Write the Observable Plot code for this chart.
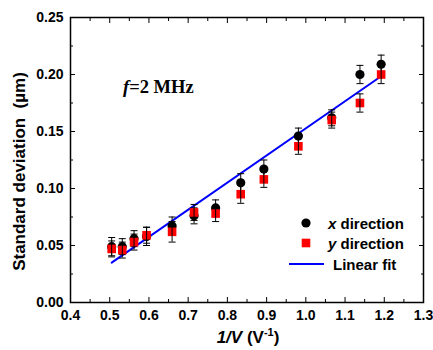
<!DOCTYPE html>
<html><head><meta charset="utf-8">
<script src="https://cdn.jsdelivr.net/npm/d3@7"></script>
<script src="https://cdn.jsdelivr.net/npm/@observablehq/plot@0.6"></script>
<style>body{margin:0;background:#fff;}</style>
</head><body><div id="chart"></div>
<script>
// ---- data ----
const invV = [0.505, 0.532, 0.562, 0.594, 0.659, 0.715, 0.770, 0.834, 0.893, 0.981, 1.066, 1.138, 1.192];
const xDir = [0.049, 0.049, 0.056, 0.058, 0.067, 0.076, 0.083, 0.105, 0.117, 0.146, 0.162, 0.200, 0.209];
const xErr = [0.008, 0.007, 0.007, 0.008, 0.008, 0.007, 0.007, 0.008, 0.008, 0.007, 0.007, 0.008, 0.008];
const yDir = [0.047, 0.046, 0.053, 0.059, 0.062, 0.079, 0.078, 0.095, 0.108, 0.137, 0.160, 0.175, 0.200];
const yErr = [0.007, 0.007, 0.007, 0.007, 0.009, 0.007, 0.007, 0.008, 0.007, 0.007, 0.007, 0.008, 0.008];
const fitX = [0.505, 1.192];
const fitY = [0.035, 0.1985];
const xTicks = [0.4, 0.5, 0.6, 0.7, 0.8, 0.9, 1.0, 1.1, 1.2, 1.3];
const xMinor = [0.45, 0.55, 0.65, 0.75, 0.85, 0.95, 1.05, 1.15, 1.25];
const yTicks = [0.00, 0.05, 0.10, 0.15, 0.20, 0.25];
const yMinor = [0.025, 0.075, 0.125, 0.175, 0.225];

const xs = invV.map((v, i) => ({x: v, y: xDir[i], e: xErr[i]}));
const ys = invV.map((v, i) => ({x: v, y: yDir[i], e: yErr[i]}));
const fit = fitX.map((v, i) => ({x: v, y: fitY[i]}));

const cap = {draw(ctx, size) { const w = Math.sqrt(size / Math.PI); ctx.moveTo(-w, 0); ctx.lineTo(w, 0); }};
const square = {draw(ctx, size) { const w = Math.sqrt(size / Math.PI); ctx.rect(-w, -w, 2 * w, 2 * w); }};

function errMarks(data) {
  return [
    Plot.ruleX(data, {x: "x", y1: d => d.y - d.e, y2: d => d.y + d.e, stroke: "black", strokeWidth: 1}),
    Plot.dot(data, {x: "x", y: d => d.y + d.e, symbol: cap, r: 3.5, stroke: "black", fill: "none", strokeWidth: 1}),
    Plot.dot(data, {x: "x", y: d => d.y - d.e, symbol: cap, r: 3.5, stroke: "black", fill: "none", strokeWidth: 1})
  ];
}

const font = "'Liberation Sans', Arial, Helvetica, sans-serif";
const tickAxis = (fn, opts) => fn({...opts, tickFormat: () => "", label: null, stroke: "black", strokeWidth: 1});

const chart = Plot.plot({
  width: 433, height: 350,
  marginLeft: 70, marginRight: 10, marginTop: 17, marginBottom: 48,
  style: {fontFamily: font, fontWeight: "bold", color: "black", background: "white"},
  x: {domain: [0.4, 1.3], label: null},
  y: {domain: [0, 0.25], label: null},
  marks: [
    Plot.axisX(xTicks, {anchor: "bottom", tickSize: 0, tickPadding: 8, tickFormat: d3.format(".1f"), fontSize: 14, fill: "black", label: null}),
    Plot.axisY(yTicks, {anchor: "left", tickSize: 0, tickPadding: 7, tickFormat: d3.format(".2f"), fontSize: 14, fill: "black", label: null}),
    tickAxis(Plot.axisX, {ticks: xTicks, anchor: "bottom", tickSize: -5}),
    tickAxis(Plot.axisX, {ticks: xMinor, anchor: "bottom", tickSize: -3}),
    tickAxis(Plot.axisX, {ticks: xTicks, anchor: "top", tickSize: -5}),
    tickAxis(Plot.axisX, {ticks: xMinor, anchor: "top", tickSize: -3}),
    tickAxis(Plot.axisY, {ticks: yTicks, anchor: "left", tickSize: -5}),
    tickAxis(Plot.axisY, {ticks: yMinor, anchor: "left", tickSize: -3}),
    tickAxis(Plot.axisY, {ticks: yTicks, anchor: "right", tickSize: -5}),
    tickAxis(Plot.axisY, {ticks: yMinor, anchor: "right", tickSize: -3}),
    Plot.line(fit, {x: "x", y: "y", stroke: "#0000ff", strokeWidth: 2}),
    Plot.dot(xs, {x: "x", y: "y", r: 4.6, fill: "black", stroke: "none"}),
    ...errMarks(xs),
    Plot.dot(ys, {x: "x", y: "y", symbol: square, r: 4.3, fill: "#ff0000", stroke: "none"}),
    ...errMarks(ys),
    Plot.frame({stroke: "black", strokeWidth: 1.5})
  ]
});

const svg = d3.select(chart);
// annotation
const ann = svg.append("text").attr("x", 123).attr("y", 93).attr("text-anchor", "start")
  .attr("font-family", "'Liberation Serif', 'Times New Roman', serif").attr("font-size", 18.5).attr("font-weight", "bold").attr("fill", "black");
ann.append("tspan").attr("font-style", "italic").text("f");
ann.append("tspan").text("=2 MHz");

// axis titles
svg.append("text").attr("transform", "translate(25,171.5) rotate(-90)").attr("text-anchor", "middle")
  .attr("font-family", font).attr("font-size", 17).attr("font-weight", "bold").attr("fill", "black")
  .style("white-space", "pre").text("Standard deviation  (\u00b5m)");
const xl = svg.append("text").attr("x", 248).attr("y", 343).attr("text-anchor", "middle")
  .attr("font-family", font).attr("font-size", 17).attr("font-weight", "bold").attr("fill", "black");
xl.append("tspan").attr("font-style", "italic").text("1/V");
xl.append("tspan").text(" (V");
xl.append("tspan").attr("font-size", 11).attr("dy", -7).text("-1");
xl.append("tspan").attr("dy", 7).text(")");

// legend
const lg = svg.append("g").attr("font-family", font).attr("font-size", 15).attr("font-weight", "bold").attr("fill", "black").attr("text-anchor", "start");
lg.append("circle").attr("cx", 306).attr("cy", 223).attr("r", 4.6).attr("fill", "black");
const t1 = lg.append("text").attr("x", 328).attr("y", 228.5);
t1.append("tspan").attr("font-style", "italic").text("x");
t1.append("tspan").text(" direction");
lg.append("rect").attr("x", 301.7).attr("y", 238.7).attr("width", 8.6).attr("height", 8.6).attr("fill", "#ff0000");
const t2 = lg.append("text").attr("x", 328).attr("y", 248.5);
t2.append("tspan").attr("font-style", "italic").text("y");
t2.append("tspan").text(" direction");
lg.append("line").attr("x1", 289).attr("x2", 324).attr("y1", 264).attr("y2", 264).attr("stroke", "#0000ff").attr("stroke-width", 2);
lg.append("text").attr("x", 333).attr("y", 269.5).text("Linear fit");

document.getElementById("chart").appendChild(chart);
</script>
</body></html>
